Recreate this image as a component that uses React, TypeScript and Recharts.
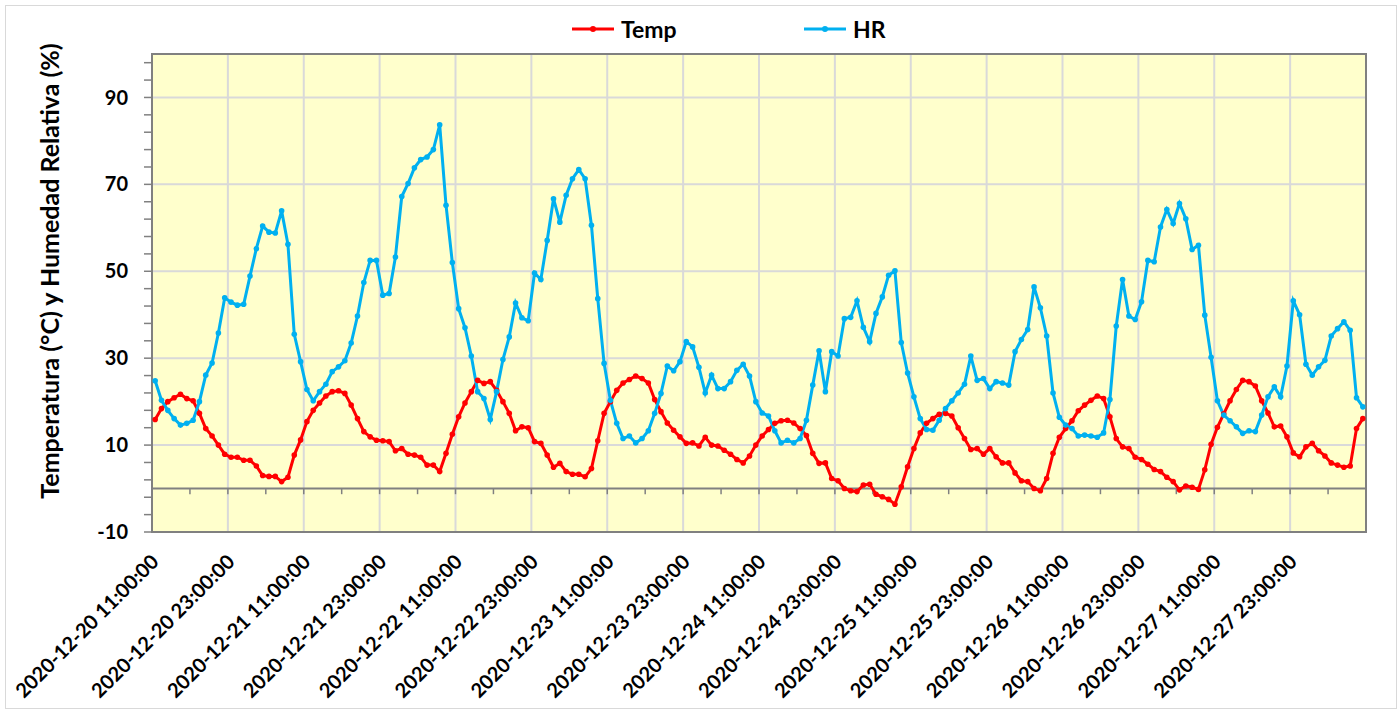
import React from 'react';
import { LineChart, Line, XAxis, YAxis, CartesianGrid, ReferenceLine, ReferenceArea } from 'recharts';

const tickLabels = [
    '2020-12-20 11:00:00', '2020-12-20 23:00:00', '2020-12-21 11:00:00', '2020-12-21 23:00:00',
    '2020-12-22 11:00:00', '2020-12-22 23:00:00', '2020-12-23 11:00:00', '2020-12-23 23:00:00',
    '2020-12-24 11:00:00', '2020-12-24 23:00:00', '2020-12-25 11:00:00', '2020-12-25 23:00:00',
    '2020-12-26 11:00:00', '2020-12-26 23:00:00', '2020-12-27 11:00:00', '2020-12-27 23:00:00',
];

// hourly readings, starting 2020-12-20 11:00
const temp = [
    15.9, 18.4, 20.0, 20.9, 21.7, 20.7, 20.2, 17.3, 13.8, 12.1, 10.0, 7.9,
    7.2, 7.2, 6.5, 6.5, 5.2, 3.0, 2.8, 2.8, 1.6, 2.6, 7.7, 11.2,
    15.4, 18.0, 19.7, 21.3, 22.3, 22.5, 21.9, 19.2, 16.1, 13.1, 11.9, 11.1,
    11.0, 10.8, 8.7, 9.2, 7.9, 7.7, 7.2, 5.4, 5.4, 3.9, 8.1, 12.5,
    16.5, 19.7, 22.3, 24.9, 24.2, 24.6, 22.6, 20.0, 17.3, 13.3, 14.2, 14.0,
    10.8, 10.4, 7.7, 4.9, 5.8, 3.9, 3.3, 3.3, 2.7, 4.6, 11.0, 17.3,
    20.0, 22.6, 24.3, 25.1, 25.9, 25.3, 24.3, 20.5, 17.7, 15.1, 13.4, 11.9,
    10.4, 10.5, 9.8, 11.8, 10.0, 9.8, 8.8, 7.9, 6.7, 5.9, 7.5, 10.0,
    12.1, 13.6, 15.0, 15.6, 15.7, 15.1, 13.8, 12.2, 8.1, 5.8, 5.9, 2.3,
    1.8, 0.0, -0.5, -0.7, 0.8, 1.0, -1.3, -1.9, -2.5, -3.6, 0.4, 5.0,
    9.2, 12.8, 15.0, 16.1, 17.1, 17.3, 16.7, 14.0, 11.5, 9.0, 9.2, 7.9,
    9.2, 7.3, 5.9, 5.9, 3.6, 1.8, 1.6, 0.0, -0.5, 2.3, 8.1, 11.8,
    13.8, 15.6, 17.9, 19.2, 20.3, 21.3, 20.7, 16.5, 11.5, 9.6, 9.2, 7.2,
    6.7, 5.6, 4.4, 3.9, 2.6, 1.6, -0.3, 0.6, 0.3, -0.2, 4.3, 10.2,
    14.1, 17.2, 20.2, 22.8, 24.9, 24.6, 23.6, 20.2, 17.4, 14.2, 14.4, 11.9,
    8.2, 7.3, 9.6, 10.4, 8.7, 7.5, 5.9, 5.4, 4.9, 5.2, 13.8, 16.1,
];

const hr = [
    24.8, 20.3, 18.0, 16.1, 14.6, 15.0, 15.7, 20.0, 26.1, 28.9, 35.8, 43.9,
    42.9, 42.2, 42.4, 48.9, 55.2, 60.4, 59.0, 58.8, 63.9, 56.2, 35.5, 29.2,
    22.8, 20.2, 22.3, 24.0, 26.9, 28.0, 29.4, 33.5, 39.7, 47.4, 52.5, 52.5,
    44.5, 44.9, 53.3, 67.2, 70.2, 73.8, 75.7, 76.3, 78.0, 83.7, 65.2, 52.0,
    41.4, 37.0, 30.5, 22.3, 20.7, 15.9, 22.3, 29.7, 34.9, 42.7, 39.3, 38.6,
    49.6, 48.1, 57.1, 66.7, 61.3, 67.5, 71.3, 73.4, 71.3, 60.6, 43.7, 28.8,
    20.3, 15.0, 11.5, 12.1, 10.5, 11.5, 13.3, 17.3, 21.9, 28.2, 27.1, 29.2,
    33.8, 32.6, 27.9, 22.0, 26.1, 23.0, 23.0, 24.6, 27.2, 28.6, 25.9, 20.0,
    17.4, 16.7, 13.3, 10.5, 11.1, 10.5, 11.5, 15.7, 23.8, 31.7, 22.3, 31.5,
    30.5, 39.1, 39.4, 43.2, 37.1, 33.8, 40.3, 44.1, 49.1, 50.1, 33.6, 26.6,
    21.1, 16.1, 13.6, 13.4, 15.7, 18.4, 20.2, 22.0, 24.0, 30.5, 24.9, 25.3,
    23.0, 24.6, 24.3, 23.8, 31.5, 34.3, 36.6, 46.4, 41.6, 35.1, 22.0, 16.4,
    14.6, 13.8, 12.1, 12.3, 12.1, 11.8, 12.8, 20.5, 37.4, 48.1, 39.7, 38.9,
    43.0, 52.5, 52.2, 60.2, 64.2, 61.0, 65.6, 62.1, 55.0, 56.0, 39.9, 30.2,
    20.2, 16.9, 15.6, 14.2, 12.7, 13.3, 13.1, 16.9, 21.1, 23.4, 21.1, 28.2,
    43.2, 40.0, 28.6, 26.1, 28.0, 29.5, 35.1, 36.8, 38.4, 36.4, 20.9, 18.8,
];

const yLabelValues = [-10, 10, 30, 50, 70, 90];

const FONT = 'Lato, "Open Sans", sans-serif';
const HOURS = temp.length;
const LABEL_STEP = 12;

// each reading sits in the middle of its hour slot
const data = temp.map((t, i) => ({ x: i + 0.5, temp: t, hr: hr[i] }));
const labelHours = tickLabels.map((_, i) => i * LABEL_STEP);
const gridHours = labelHours.slice(1);
const zeroTicks = Array.from({ length: HOURS / 6 - 1 }, (_, i) => (i + 1) * 6);
const yTicks = Array.from({ length: 28 }, (_, i) => -10 + i * 4);

const XTick = ({ x, y, payload }: any) => {
    const ax = x + 8;
    const ay = y + 31;
    return (
        <text x={ax} y={ay} transform={`rotate(-45 ${ax} ${ay})`} textAnchor="end"
            fontFamily={FONT} fontWeight={700} fontSize={20} fill="#000">
            {tickLabels[payload.value / LABEL_STEP]}
        </text>
    );
};

const YTitle = ({ viewBox }: any) => {
    const cx = viewBox.x - 43;
    const cy = viewBox.y + viewBox.height / 2 - 22;
    return (
        <text x={cx} y={cy} transform={`rotate(-90 ${cx} ${cy})`} textAnchor="middle" dominantBaseline="central"
            fontFamily={FONT} fontWeight={700} fontSize={25} fill="#000">
            Temperatura (°C) y Humedad Relativa (%)
        </text>
    );
};

const LegendItem = ({ color, name, left }: { color: string; name: string; left: number }) => (
    <div style={{ position: 'absolute', left, top: 15, display: 'flex', alignItems: 'center' }}>
        <svg width={44} height={28}>
            <line x1={1} y1={14} x2={43} y2={14} stroke={color} strokeWidth={3} />
            <circle cx={22} cy={14} r={3} fill={color} />
        </svg>
        <span style={{ fontFamily: FONT, fontWeight: 700, fontSize: 23, marginLeft: 6, color: '#000' }}>{name}</span>
    </div>
);

export default function App() {
    return (
        <div style={{ position: 'fixed', left: 0, top: 0, width: 1400, height: 711, background: '#fff' }}>
            <div style={{ position: 'absolute', left: 5, top: 5, width: 1390, height: 702, border: '1px solid #d9d9d9' }} />
            <LegendItem color="#FF0000" name="Temp" left={571} />
            <LegendItem color="#00B0F0" name="HR" left={803} />
            <div style={{ position: 'absolute', left: 0, top: 0 }}>
                <LineChart width={1400} height={711} data={data} margin={{ top: 54, right: 34, left: 92, bottom: 29 }}>
                    <CartesianGrid fill="#FFFFCC" stroke="#D9D9D9" strokeWidth={2}
                        horizontalValues={yLabelValues.slice(1)} verticalValues={gridHours} />
                    <XAxis type="number" dataKey="x" domain={[0, HOURS]} ticks={labelHours} interval={0}
                        axisLine={false} tickLine={false} tickSize={0} tickMargin={0} height={150} tick={<XTick />} />
                    <YAxis type="number" domain={[-10, 100]} ticks={yTicks} interval={0} allowDataOverflow width={60}
                        axisLine={{ stroke: '#808080', strokeWidth: 2 }} tickLine={{ stroke: '#808080', strokeWidth: 1.5 }}
                        tickSize={8} tickMargin={16}
                        tickFormatter={(v: number) => (yLabelValues.includes(v) ? String(v) : '')}
                        tick={{ fontFamily: FONT, fontWeight: 700, fontSize: 20, fill: '#000' }}
                        label={<YTitle />} />
                    <ReferenceArea x1={0} x2={HOURS} y1={-10} y2={100} fill="none" stroke="#808080" strokeWidth={2} ifOverflow="visible" />
                    <ReferenceLine y={0} stroke="#808080" strokeWidth={2} />
                    {zeroTicks.map((t) => (
                        <ReferenceLine key={t} segment={[{ x: t, y: 0 }, { x: t, y: -1.3 }]} stroke="#808080" strokeWidth={1.5} />
                    ))}
                    <Line type="linear" dataKey="temp" stroke="#FF0000" strokeWidth={3}
                        dot={{ r: 2.8, fill: '#FF0000', stroke: 'none' }} activeDot={false} isAnimationActive={false} />
                    <Line type="linear" dataKey="hr" stroke="#00B0F0" strokeWidth={3}
                        dot={{ r: 2.8, fill: '#00B0F0', stroke: 'none' }} activeDot={false} isAnimationActive={false} />
                </LineChart>
            </div>
        </div>
    );
}
